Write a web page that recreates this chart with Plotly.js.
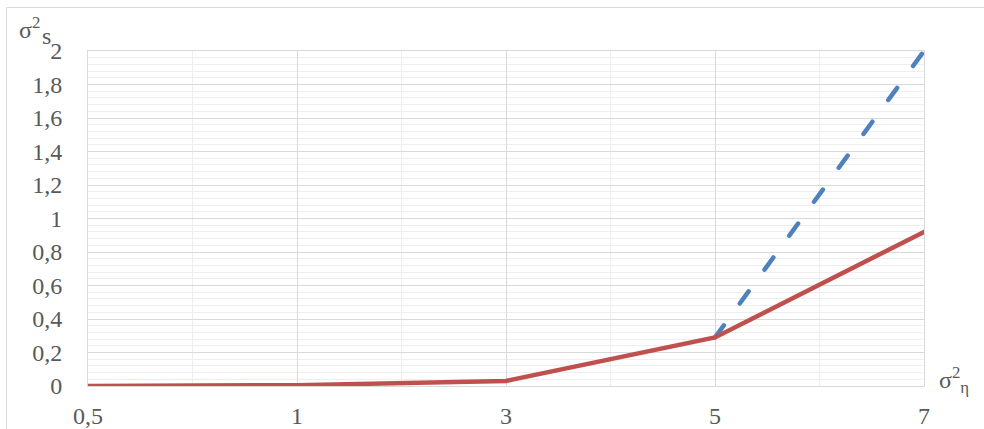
<!DOCTYPE html>
<html>
<head>
<meta charset="utf-8">
<script src="https://cdn.plot.ly/plotly-3.0.1.min.js"></script>
<style>
  html, body { margin: 0; padding: 0; background: #ffffff; }
  #chart { width: 984px; height: 429px; }
  /* rounded ends on the dashes and line ends */
  .scatterlayer .js-line { stroke-linecap: round; }
</style>
</head>
<body>
<div id="chart"></div>
<script>
// σ²η categories along the horizontal axis
const etaLabels = ['0,5', '1', '3', '5', '7'];

// Upper estimate (dashed, only shown where it departs from the solid curve)
const upperValues = [null, null, null, 0.29, 2.0];

// σ²s values (solid curve)
const sigmaValues = [0, 0.005, 0.03, 0.29, 0.92];

const idx = etaLabels.map((_, i) => i);

const serif = 'Liberation Serif';
const grey = '#595959';
const fontSize = 24;

const traces = [
  {
    x: idx, y: upperValues, type: 'scatter', mode: 'lines',
    line: { color: '#4F81BD', width: 4.5, dash: '15px,27px' },
    connectgaps: false, hoverinfo: 'skip', showlegend: false
  },
  {
    x: idx, y: sigmaValues, type: 'scatter', mode: 'lines',
    line: { color: '#C0504D', width: 4.5 },
    hoverinfo: 'skip', showlegend: false
  }
];

const layout = {
  width: 984, height: 429,
  margin: { l: 88, r: 60, t: 51, b: 43 },
  paper_bgcolor: '#ffffff', plot_bgcolor: '#ffffff',
  separators: ', ',
  showlegend: false,
  xaxis: {
    type: 'linear', range: [0, idx.length - 1],
    tickmode: 'array', tickvals: idx, ticktext: etaLabels,
    showgrid: true, gridcolor: '#d9d9d9', gridwidth: 1,
    minor: { tickmode: 'linear', tick0: 0, dtick: 0.5, showgrid: true, gridcolor: '#eeeeee', gridwidth: 1 },
    zeroline: false,
    showline: true, linecolor: '#d9d9d9', linewidth: 1, mirror: true,
    ticks: 'outside', ticklen: 8, tickcolor: 'rgba(0,0,0,0)',
    tickfont: { family: serif, size: fontSize, color: grey }
  },
  yaxis: {
    range: [0, 2], tick0: 0, dtick: 0.2,
    showgrid: true, gridcolor: '#d9d9d9', gridwidth: 1,
    minor: { tick0: 0, dtick: 0.04, showgrid: true, gridcolor: '#eeeeee', gridwidth: 1 },
    zeroline: false,
    showline: true, linecolor: '#d9d9d9', linewidth: 1, mirror: true,
    ticks: 'outside', ticklen: 20, tickcolor: 'rgba(0,0,0,0)',
    tickfont: { family: serif, size: fontSize, color: grey }
  },
  annotations: [
    {
      // σ² of the vertical axis title
      text: 'σ<sup>2</sup>',
      xref: 'paper', yref: 'paper', x: 0, y: 1,
      xanchor: 'left', yanchor: 'middle', xshift: -71, yshift: 23,
      showarrow: false, font: { family: serif, size: fontSize, color: grey }
    },
    {
      // lowered s of the vertical axis title
      text: 's',
      xref: 'paper', yref: 'paper', x: 0, y: 1,
      xanchor: 'left', yanchor: 'middle', xshift: -48, yshift: 15,
      showarrow: false, font: { family: serif, size: fontSize, color: grey }
    },
    {
      text: 'σ<sup>2</sup><sub>η</sub>',
      xref: 'paper', yref: 'paper', x: 1, y: 0,
      xanchor: 'left', yanchor: 'middle', xshift: 13, yshift: 6,
      showarrow: false, font: { family: serif, size: fontSize, color: grey }
    }
  ],
  shapes: [
    {
      type: 'rect', xref: 'paper', yref: 'paper', layer: 'below',
      x0: (6.5 - 88) / 836, x1: (1000 - 88) / 836,
      y0: (386 - 450) / 335, y1: (386 - 7.5) / 335,
      line: { color: '#d9d9d9', width: 1 }, fillcolor: 'rgba(0,0,0,0)'
    }
  ]
};

Plotly.newPlot('chart', traces, layout, { staticPlot: true, displayModeBar: false });
</script>
</body>
</html>
